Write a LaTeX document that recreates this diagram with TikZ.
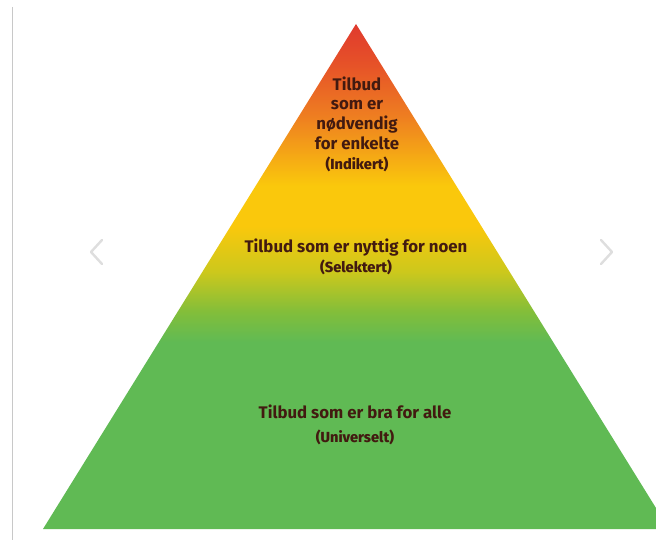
\documentclass[tikz,border=0pt]{standalone}
\usepackage{fontspec}
\setmainfont{Fira Sans}
\newfontfamily\subfont{Fira Sans Medium}
\usetikzlibrary{positioning}
\definecolor{pyrred}{RGB}{224,58,46}
\definecolor{pyrredor}{RGB}{230,82,40}
\definecolor{pyrorange}{RGB}{238,125,33}
\definecolor{pyryellow}{RGB}{250,200,12}
\definecolor{pyrolive}{RGB}{205,200,28}
\definecolor{pyrlime}{RGB}{130,190,58}
\definecolor{pyrgreen}{RGB}{96,186,84}
\definecolor{textbrown}{RGB}{66,26,16}
\definecolor{navgray}{RGB}{222,222,222}
\definecolor{rulegray}{RGB}{200,200,200}
% 25bp = base of the pyramid, 75bp = apex
\pgfdeclareverticalshading{pyramid}{100bp}{%
  color(0bp)=(pyrgreen); color(25bp)=(pyrgreen); color(43.5bp)=(pyrgreen);
  color(46.5bp)=(pyrlime); color(50.5bp)=(pyrolive); color(55bp)=(pyryellow);
  color(59bp)=(pyryellow); color(66bp)=(pyrorange); color(71bp)=(pyrredor);
  color(75bp)=(pyrred); color(100bp)=(pyrred)}

\begin{document}
\begin{tikzpicture}[x=1pt, y=-1pt,
        label/.style={align=center, text=textbrown, inner sep=0pt, font=\fontsize{16.8}{19.7}\selectfont\bfseries},
        nav/.style={draw=navgray, line width=2.4pt, line cap=round, line join=round},
    ]
    \newcommand\subtxt[1]{{\subfont\fontsize{14.6}{19.7}\selectfont#1}}
    \useasboundingbox (0,0) rectangle (656,540);

    % Pyramid
    \begin{scope}
        \clip (0,0) rectangle (656,540);
        \shade[shading=pyramid] (356,24) -- (43,529) -- (669,529) -- cycle;
    \end{scope}

    % Side rule and arrows
    \draw[rulegray, line width=0.8pt] (12,7) -- (12,540);
    \draw[nav] (102,240) -- (91,252) -- (102,264);
    \draw[nav] (601,240) -- (612,252) -- (601,264);

    % Levels
    \node[label] (indikert) at (357,124) {Tilbud\\som er\\nødvendig\\for enkelte\\\subtxt{(Indikert)}};
    \node[label] (selektert) at (356,257) {Tilbud som er nyttig for noen\\[1pt]\subtxt{(Selektert)}};
    \node[label] (universelt) at (355,425) {Tilbud som er bra for alle\\[4pt]\subtxt{(Universelt)}};
\end{tikzpicture}
\end{document}
